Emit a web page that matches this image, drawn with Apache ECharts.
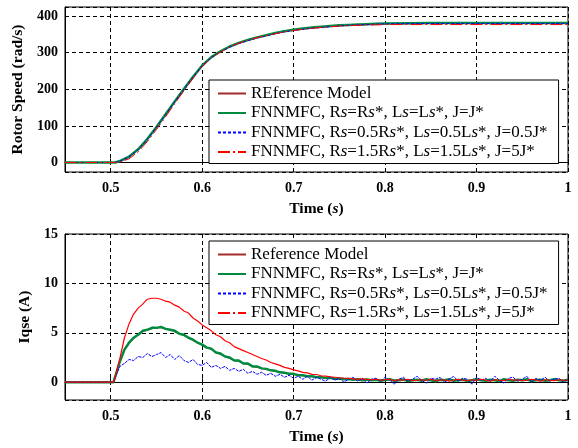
<!DOCTYPE html>
<html>
<head>
<meta charset="utf-8">
<script src="https://cdn.jsdelivr.net/npm/echarts@6/dist/echarts.min.js"></script>
<style>
  html, body { margin: 0; padding: 0; background: #fff; }
  #main { width: 578px; height: 448px; }
</style>
</head>
<body>
<div id="main"></div>
<script>
// 图例名称
var namesTop = ['REference Model', 'FNNMFC, Rs=Rs*, Ls=Ls*, J=J*', 'FNNMFC, Rs=0.5Rs*, Ls=0.5Ls*, J=0.5J*', 'FNNMFC, Rs=1.5Rs*, Ls=1.5Ls*, J=5J*'];
var namesBottom = ['Reference Model', 'FNNMFC, Rs=Rs*, Ls=Ls*, J=J*', 'FNNMFC, Rs=0.5Rs*, Ls=0.5Ls*, J=0.5J*', 'FNNMFC, Rs=1.5Rs*, Ls=1.5Ls*, J=5J*'];

// 转速 时间采样
var timeSpeed = [0.45, 0.5, 0.505, 0.51, 0.52, 0.53, 0.54, 0.55, 0.56, 0.57, 0.58, 0.59, 0.6,
  0.61, 0.62, 0.63, 0.64, 0.65, 0.66, 0.67, 0.68, 0.69, 0.7,
  0.71, 0.72, 0.73, 0.74, 0.75, 0.76, 0.77, 0.78, 0.79, 0.8, 0.85, 0.9, 0.95, 1.0];
var speedRef = [0, 0, 0, 3, 14, 34, 62, 95, 130, 165, 199, 233, 264,
  287, 303, 316, 326, 334, 341, 347, 353, 358, 362,
  365, 368, 370, 372, 374, 375, 376, 377, 378, 379, 380, 380, 380, 380];
var speedNom = [0, 0, 0, 4, 16, 36, 64, 97, 132, 167, 201, 234, 265,
  288, 304, 317, 327, 335, 342, 348, 354, 359, 363,
  366, 369, 371, 373, 375, 376, 377, 378, 379, 380, 381, 381, 381, 381];
var speedLow = [0, 0, 0, 4, 15, 35, 63, 96, 131, 166, 200, 233, 264,
  287, 302, 315, 325, 333, 340, 346, 352, 357, 361,
  364, 367, 369, 371, 373, 375, 376, 377, 378, 379, 380, 380, 380, 380];
var speedHigh = [0, 0, 0, 1, 10, 29, 57, 90, 125, 161, 196, 230, 262,
  286, 302, 316, 326, 334, 341, 347, 352, 357, 361,
  364, 367, 369, 371, 373, 374, 375, 376, 376, 377, 377, 377, 377, 377];

// 电流 时间采样
var timeCur = [0.45, 0.5, 0.503, 0.505, 0.51, 0.515, 0.52, 0.525, 0.53, 0.535,
  0.54, 0.545, 0.55, 0.555, 0.56, 0.565, 0.57, 0.575, 0.58, 0.585,
  0.59, 0.595, 0.6, 0.605, 0.61, 0.615, 0.62, 0.625, 0.63, 0.635,
  0.64, 0.645, 0.65, 0.655, 0.66, 0.665, 0.67, 0.675, 0.68, 0.685,
  0.69, 0.695, 0.7, 0.705, 0.71, 0.715, 0.72, 0.725, 0.73, 0.735,
  0.74, 0.745, 0.75, 0.755, 0.76, 0.765, 0.77, 0.775, 0.78, 0.785,
  0.79, 0.795, 0.8, 0.805, 0.81, 0.815, 0.82, 0.825, 0.83, 0.835,
  0.84, 0.845, 0.85, 0.855, 0.86, 0.865, 0.87, 0.875, 0.88, 0.885,
  0.89, 0.895, 0.9, 0.905, 0.91, 0.915, 0.92, 0.925, 0.93, 0.935,
  0.94, 0.945, 0.95, 0.955, 0.96, 0.965, 0.97, 0.975, 0.98, 0.985,
  0.99, 0.995, 1.0];
var curRef = [0, 0, 0, 0.5, 2.0, 3.2, 3.9, 4.4, 4.8, 5.1,
  5.3, 5.4, 5.5, 5.5, 5.4, 5.3, 5.1, 4.9, 4.7, 4.5,
  4.2, 4.0, 3.7, 3.5, 3.3, 3.0, 2.8, 2.6, 2.4, 2.2,
  2.1, 1.9, 1.8, 1.6, 1.5, 1.4, 1.3, 1.2, 1.1, 1.0,
  0.9, 0.85, 0.8, 0.7, 0.65, 0.6, 0.55, 0.5, 0.45, 0.42,
  0.4, 0.37, 0.35, 0.32, 0.3, 0.28, 0.27, 0.25, 0.24, 0.23,
  0.22, 0.22, 0.22, 0.22, 0.22, 0.22, 0.22, 0.22, 0.22, 0.22,
  0.21, 0.21, 0.21, 0.21, 0.21, 0.21, 0.21, 0.21, 0.21, 0.21,
  0.2, 0.2, 0.2, 0.2, 0.2, 0.2, 0.2, 0.2, 0.2, 0.2,
  0.2, 0.2, 0.2, 0.2, 0.2, 0.2, 0.2, 0.2, 0.2, 0.2,
  0.2, 0.2, 0.2];
var curNom = [0, 0, 0, 0.6, 2.1, 3.3, 4.0, 4.5, 4.8, 5.2,
  5.3, 5.5, 5.5, 5.6, 5.4, 5.3, 5.2, 4.9, 4.8, 4.5,
  4.3, 4.0, 3.8, 3.5, 3.4, 3.0, 2.9, 2.6, 2.5, 2.2,
  2.2, 1.9, 1.9, 1.6, 1.6, 1.4, 1.35, 1.2, 1.15, 1.0,
  0.95, 0.85, 0.85, 0.7, 0.7, 0.6, 0.6, 0.5, 0.5, 0.42,
  0.45, 0.35, 0.38, 0.3, 0.33, 0.25, 0.3, 0.2, 0.28, 0.2,
  0.25, 0.15, 0.22, 0.3, 0.15, 0.2, 0.27, 0.12, 0.2, 0.25,
  0.15, 0.3, 0.2, 0.1, 0.25, 0.2, 0.3, 0.15, 0.2, 0.25,
  0.12, 0.2, 0.3, 0.2, 0.15, 0.25, 0.2, 0.1, 0.3, 0.2,
  0.15, 0.25, 0.2, 0.3, 0.12, 0.2, 0.25, 0.15, 0.2, 0.3,
  0.2, 0.15, 0.25];
var curLow = [0, 0, 0, 0.5, 1.6, 1.9, 2.3, 2.2, 2.6, 2.5,
  2.9, 2.6, 2.8, 3.0, 2.5, 2.8, 2.3, 2.7, 2.2, 2.0,
  2.3, 1.8, 1.7, 2.0, 1.5, 1.7, 1.4, 1.6, 1.2, 1.4,
  1.1, 1.3, 0.9, 1.1, 0.8, 1.0, 0.7, 0.9, 0.6, 0.8,
  0.5, 0.7, 0.4, 0.6, 0.3, 0.6, 0.2, 0.5, 0.3, 0.1,
  0.5, 0.2, 0.4, 0.0, 0.3, 0.5, 0.1, 0.4, -0.1, 0.3,
  0.4, 0.1, 0.5, 0.2, -0.2, 0.3, 0.5, 0.1, 0.3, 0.6,
  0.2, -0.1, 0.4, 0.3, 0.5, 0.0, 0.3, 0.6, 0.1, 0.4,
  0.3, -0.2, 0.5, 0.2, 0.4, 0.1, 0.6, 0.2, -0.1, 0.4,
  0.5, 0.1, 0.3, 0.6, 0.0, 0.4, 0.2, 0.5, 0.1, 0.3,
  0.4, 0.0, 0.3];
var curHigh = [0, 0, 0, 0.6, 2.4, 4.5, 5.9, 6.9, 7.5, 7.9,
  8.4, 8.5, 8.5, 8.4, 8.2, 8.1, 7.8, 7.6, 7.2, 7.0,
  6.5, 6.2, 5.8, 5.5, 5.2, 4.8, 4.6, 4.2, 4.0, 3.6,
  3.4, 3.2, 3.0, 2.8, 2.6, 2.4, 2.25, 2.0, 1.85, 1.7,
  1.5, 1.4, 1.25, 1.15, 1.0, 0.95, 0.8, 0.78, 0.65, 0.62,
  0.55, 0.5, 0.45, 0.42, 0.4, 0.33, 0.32, 0.35, 0.28, 0.25,
  0.3, 0.2, 0.25, 0.3, 0.15, 0.25, 0.2, 0.3, 0.15, 0.2,
  0.25, 0.2, 0.3, 0.15, 0.2, 0.25, 0.1, 0.2, 0.3, 0.2,
  0.15, 0.25, 0.2, 0.3, 0.2, 0.1, 0.25, 0.2, 0.15, 0.3,
  0.2, 0.25, 0.15, 0.2, 0.3, 0.2, 0.1, 0.25, 0.2, 0.15,
  0.25, 0.2, 0.2];

var FONT = 'Liberation Serif';
var FS = 17;
var stylesTop = [
  { color: '#a32b2b', width: 1, type: 'solid' },
  { color: '#008a3e', width: 2.5, type: 'solid' },
  { color: '#0000ff', width: 1, type: [3, 2] },
  { color: '#ff0000', width: 1, type: [12, 3, 2, 3] }
];
// 电流曲线噪声较大，红线看起来近似实线
var stylesBottom = [
  { color: '#a32b2b', width: 1, type: 'solid' },
  { color: '#008a3e', width: 2.5, type: 'solid' },
  { color: '#0000ff', width: 1, type: [3, 1] },
  { color: '#ff0000', width: 1.2, type: 'solid' }
];

function pairs(t, v) {
  return t.map(function (x, i) { return [x, v[i]]; });
}

function makeSeries(names, t, arrs, idx, styles) {
  return arrs.map(function (a, k) {
    return {
      name: names[k],
      type: 'line',
      xAxisIndex: idx,
      yAxisIndex: idx,
      symbol: 'none',
      showSymbol: false,
      animation: false,
      z: 2 + k,
      lineStyle: styles[k],
      itemStyle: { color: styles[k].color },
      data: pairs(t, a)
    };
  });
}

// 图例文字中 Rs / Ls 的 s 为斜体
function legendFmt(name) {
  return name.replace(/([RL])s/g, '$1{i|s}');
}

function makeLegend(names, top) {
  return {
    data: names,
    orient: 'vertical',
    left: 209,
    top: top,
    padding: [5, 11, 3, 8],
    itemGap: 2.5,
    itemWidth: 28,
    itemHeight: 17,
    backgroundColor: '#fff',
    borderColor: '#000',
    borderWidth: 1,
    selectedMode: false,
    itemStyle: { opacity: 0 },
    formatter: legendFmt,
    textStyle: {
      fontFamily: FONT,
      fontSize: FS,
      color: '#000',
      lineHeight: 17,
      rich: { i: { fontFamily: FONT, fontSize: FS, fontStyle: 'italic', color: '#000', lineHeight: 17 } }
    }
  };
}

function xAxis(idx) {
  return {
    type: 'value',
    gridIndex: idx,
    min: 0.45,
    max: 1.0,
    name: '{b|Time (}{i|s}{b|)}',
    nameLocation: 'middle',
    nameGap: 29,
    nameTextStyle: {
      rich: {
        b: { fontFamily: FONT, fontSize: 15.5, fontWeight: 'bold', color: '#000' },
        i: { fontFamily: FONT, fontSize: 15.5, fontWeight: 'bold', fontStyle: 'italic', color: '#000' }
      }
    },
    axisLine: { lineStyle: { color: '#000', width: 1 } },
    axisTick: { inside: true, length: 4, lineStyle: { color: '#000' } },
    axisLabel: { showMinLabel: false, margin: 9, fontFamily: FONT, fontSize: 14, fontWeight: 'bold', color: '#000' },
    splitLine: { show: true, lineStyle: { color: '#000', width: 1, type: [4, 3] } }
  };
}

function yAxis(idx, name, min, max, split) {
  return {
    type: 'value',
    gridIndex: idx,
    min: min,
    max: max,
    splitNumber: split,
    name: name,
    nameLocation: 'middle',
    nameGap: 32,
    nameTextStyle: { fontFamily: FONT, fontSize: 15.5, fontWeight: 'bold', color: '#000' },
    axisLine: { show: true, lineStyle: { color: '#000', width: 1 } },
    axisTick: { inside: true, length: 4, lineStyle: { color: '#000' } },
    axisLabel: { showMinLabel: false, margin: 7, fontFamily: FONT, fontSize: 14, fontWeight: 'bold', color: '#000' },
    splitLine: { show: true, lineStyle: { color: '#000', width: 1, type: [4, 3] } }
  };
}

var myChart = echarts.init(document.getElementById('main'), null, { renderer: 'canvas' });
var option = {
  backgroundColor: '#fff',
  animation: false,
  grid: [
    { left: 65, top: 7, right: 10, height: 165, show: true, borderColor: '#000', borderWidth: 1 },
    { left: 65, top: 234, right: 10, height: 166, show: true, borderColor: '#000', borderWidth: 1 }
  ],
  legend: [makeLegend(namesTop, 80), makeLegend(namesBottom, 241)],
  xAxis: [xAxis(0), xAxis(1)],
  yAxis: [
    yAxis(0, 'Rotor Speed (rad/s)', -26, 425, 5),
    yAxis(1, 'Iqse (A)', -1.8, 15, 3)
  ],
  series: makeSeries(namesTop, timeSpeed, [speedRef, speedNom, speedLow, speedHigh], 0, stylesTop)
    .concat(makeSeries(namesBottom, timeCur, [curRef, curNom, curLow, curHigh], 1, stylesBottom))
};
myChart.setOption(option);
</script>
</body>
</html>
